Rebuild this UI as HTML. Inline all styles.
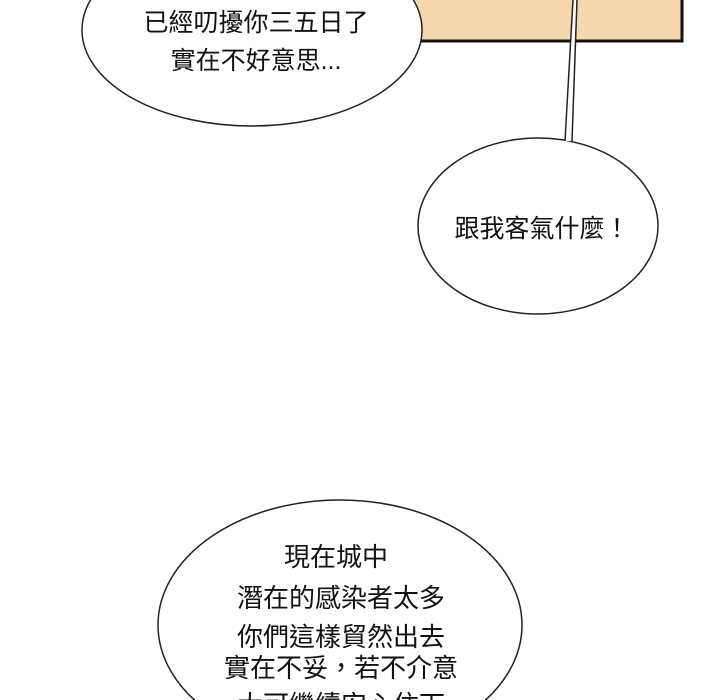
<!DOCTYPE html>
<html><head><meta charset="utf-8"><style>
body{margin:0;width:720px;height:700px;overflow:hidden;background:#fff;position:relative}
svg{position:absolute;left:0;top:0}
text{font-family:"Liberation Sans","Noto Sans CJK TC",sans-serif;fill:#111;text-anchor:middle}
</style></head><body>
<svg width="720" height="700" viewBox="0 0 720 700">
<rect x="405" y="-5" width="277" height="46" fill="#f5d8ae" stroke="#111" stroke-width="3"/>
<ellipse cx="252" cy="30" rx="170" ry="96" fill="#fff" stroke="#222" stroke-width="1.5"/>
<ellipse cx="538" cy="226" rx="120" ry="88" fill="#fff" stroke="#222" stroke-width="1.5"/>
<polygon points="565,141 573,0 577,0 572,141" fill="#fff"/>
<line x1="565" y1="141" x2="573" y2="0" stroke="#222" stroke-width="1.5"/>
<line x1="572" y1="141" x2="577" y2="0" stroke="#222" stroke-width="1.5"/>
<ellipse cx="340" cy="625" rx="182" ry="125" fill="#fff" stroke="#222" stroke-width="1.5"/>
<g font-size="25">
<text x="256" y="31">已經叨擾你三五日了</text>
<text x="256" y="69">實在不好意思...</text>
<text x="542" y="237">跟我客氣什麼！</text>
</g>
<g font-size="26">
<text x="336" y="566">現在城中</text>
<text x="341" y="607">潛在的感染者太多</text>
<text x="341" y="646">你們這樣貿然出去</text>
<text x="341" y="677">實在不妥，若不介意</text>
<text x="341" y="714">大可繼續安心住下</text>
</g>
</svg>
</body></html>
